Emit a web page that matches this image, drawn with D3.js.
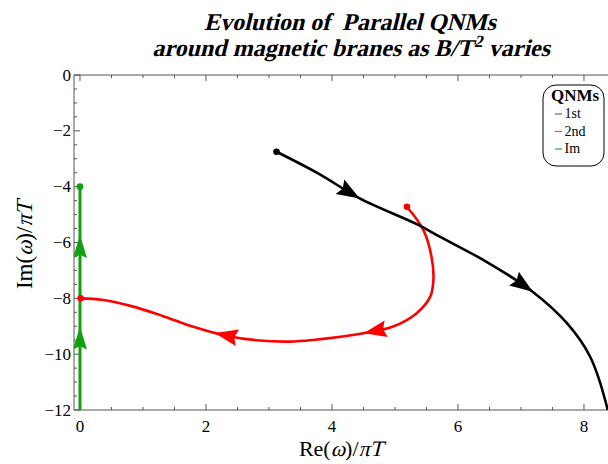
<!DOCTYPE html>
<html>
<body>
    <style>
        body, html {
            margin: 0;
            padding: 0;
            background: #fff;
        }
        svg { display: block; }
        text { font-family: "Liberation Serif", "Times New Roman", serif; }
    </style>

    <svg width="608" height="464"></svg>

    <script src="https://d3js.org/d3.v7.min.js"></script>

    <script>
        // data (Re, Im) in units of pi*T
        var firstMode = [
            [3.12, -2.75], [3.80, -3.55], [4.44, -4.42], [5.37, -5.37], [5.71, -5.79],
            [6.46, -6.70], [7.19, -7.77], [7.73, -8.89], [8.10, -10.1], [8.37, -11.93], [8.40, -12.3]
        ];
        var secondMode = [
            [5.19, -4.72], [5.45, -5.55], [5.58, -6.51], [5.61, -7.34], [5.56, -7.94],
            [5.34, -8.54], [4.97, -9.01], [4.50, -9.25], [3.70, -9.49], [3.33, -9.55],
            [2.80, -9.50], [2.30, -9.33], [1.80, -9.02], [1.30, -8.62], [0.80, -8.27],
            [0.35, -8.05], [0.01, -8.0]
        ];
        var imMode = [[0, -12.3], [0, -4.0]];

        var firstDots = [[3.12, -2.75]];
        var secondDots = [[5.19, -4.72], [0.01, -8.0]];
        var imDots = [[0, -4.0]];

        var firstArrows = [[4.44, -4.42], [7.19, -7.77]];
        var secondArrows = [[4.50, -9.25], [2.14, -9.25]];
        var imArrows = [[0, -5.73], [0, -9.01]];

        var xTicks = [0, 2, 4, 6, 8];
        var yTicks = [0, -2, -4, -6, -8, -10, -12];
        var legendLabels = ["1st", "2nd", "Im"];

        var firstColor = "#000";
        var secondColor = "#ff0000";
        var imColor = "#10a010";
        var legendColors = ["#666", "#ff4040", "#20b020"];
        var frameColor = "#555";

        var svg = d3.select("svg");
        var pLeft = 74, pRight = 612, pTop = 75, pBottom = 410;
        var SKEW = -14;

        var x = d3.scaleLinear().domain([-0.095, 8.445]).range([pLeft, pRight]);
        var y = d3.scaleLinear().domain([-12, 0]).range([pBottom, pTop]);

        // text made of pieces, italic pieces are slanted (no italic serif face installed)
        function richText(parent, pieces, size, weight) {
            var g = parent.append("g");
            var cx = 0;
            pieces.forEach(function (p) {
                var sz = p.size || size;
                var holder = g.append("g")
                    .attr("transform", "translate(" + cx + "," + (p.dy || 0) + ")" + (p.italic ? " skewX(" + SKEW + ")" : ""));
                var t = holder.append("text")
                    .attr("font-size", sz).attr("font-weight", weight || "normal")
                    .attr("xml:space", "preserve")
                    .text(p.text);
                cx += t.node().getComputedTextLength() + (p.gap || 0);
            });
            g.selectAll("g").each(function () {
                var tr = d3.select(this).attr("transform");
                var m = /translate\(([-\d.e]+),([-\d.e]+)\)(.*)/.exec(tr);
                d3.select(this).attr("transform",
                    "translate(" + (+m[1] - cx / 2) + "," + m[2] + ")" + m[3]);
            });
            return g;
        }

        svg.append("clipPath").attr("id", "plotClip")
            .append("rect").attr("x", pLeft).attr("y", pTop)
            .attr("width", pRight - pLeft).attr("height", pBottom - pTop);

        // FRAME + TICKS
        var frame = svg.append("g");
        frame.append("path")
            .attr("d", "M" + pRight + "," + pTop + "H" + pLeft + "V" + pBottom + "H" + pRight)
            .attr("fill", "none").attr("stroke", frameColor).attr("stroke-width", 1);

        var xMinor = d3.range(0, 8.5, 0.5);
        var yMinor = d3.range(-12, 0.01, 0.5);

        xMinor.forEach(function (v) {
            var major = xTicks.indexOf(v) >= 0;
            var len = major ? 6 : 3;
            frame.append("line").attr("x1", x(v)).attr("x2", x(v))
                .attr("y1", pBottom).attr("y2", pBottom - len)
                .attr("stroke", frameColor);
            frame.append("line").attr("x1", x(v)).attr("x2", x(v))
                .attr("y1", pTop).attr("y2", pTop + len)
                .attr("stroke", frameColor);
        });
        yMinor.forEach(function (v) {
            var major = yTicks.indexOf(v) >= 0;
            frame.append("line").attr("x1", pLeft).attr("x2", pLeft + (major ? 6 : 3))
                .attr("y1", y(v)).attr("y2", y(v))
                .attr("stroke", frameColor);
        });

        frame.selectAll(".xl").data(xTicks).enter().append("text")
            .attr("x", function (d) { return x(d); }).attr("y", 432)
            .attr("text-anchor", "middle").attr("font-size", 17)
            .text(function (d) { return d; });
        frame.selectAll(".yl").data(yTicks).enter().append("text")
            .attr("x", 71).attr("y", function (d) { return y(d) + 5.5; })
            .attr("text-anchor", "end").attr("font-size", 17)
            .text(function (d) { return d === 0 ? "0" : "\u2212" + Math.abs(d); });

        // AXIS LABELS
        var axisPieces = function (first) {
            return [
                { text: first + "(" },
                { text: "\u03C9", italic: true },
                { text: ")/" },
                { text: "\u03C0", italic: true },
                { text: "T", italic: true }
            ];
        };
        richText(svg.append("g").attr("transform", "translate(341,456)"), axisPieces("Re"), 22);
        richText(svg.append("g").attr("transform", "translate(32,245) rotate(-90)"), axisPieces("Im"), 23);

        // TITLE
        richText(svg.append("g").attr("transform", "translate(350,30)"),
            [{ text: "Evolution of  Parallel QNMs", italic: true }], 24, "bold");
        richText(svg.append("g").attr("transform", "translate(351,56)"),
            [{ text: "around magnetic branes as B/T", italic: true, gap: 1 },
             { text: "2", italic: true, size: 17, dy: -9 },
             { text: " varies", italic: true }], 24, "bold");

        // CURVES
        var plot = svg.append("g").attr("clip-path", "url(#plotClip)");
        var line = d3.line()
            .x(function (d) { return x(d[0]); })
            .y(function (d) { return y(d[1]); })
            .curve(d3.curveCatmullRom.alpha(0.5));

        function drawSeries(data, dots, arrows, color, width, headLen, headHalf) {
            var p = plot.append("path").datum(data)
                .attr("d", line)
                .attr("fill", "none").attr("stroke", color)
                .attr("stroke-width", width);

            var node = p.node();
            var total = node.getTotalLength();

            arrows.forEach(function (a) {
                var tx = x(a[0]), ty = y(a[1]);
                var best = 0, bestD = Infinity;
                for (var s = 0; s <= total; s += 0.5) {
                    var pt = node.getPointAtLength(s);
                    var dd = (pt.x - tx) * (pt.x - tx) + (pt.y - ty) * (pt.y - ty);
                    if (dd < bestD) { bestD = dd; best = s; }
                }
                var tip = node.getPointAtLength(best);
                var back = node.getPointAtLength(Math.max(0, best - headLen));
                var dx = tip.x - back.x, dy = tip.y - back.y;
                var n = Math.sqrt(dx * dx + dy * dy);
                dx /= n; dy /= n;
                var bx = tip.x - dx * headLen, by = tip.y - dy * headLen;
                var nx = tip.x - dx * headLen * 0.86, ny = tip.y - dy * headLen * 0.86;
                var pts = [
                    [tip.x, tip.y],
                    [bx - dy * headHalf, by + dx * headHalf],
                    [nx, ny],
                    [bx + dy * headHalf, by - dx * headHalf]
                ];
                plot.append("path")
                    .attr("d", "M" + pts.map(function (q) { return q.join(","); }).join("L") + "Z")
                    .attr("fill", color).attr("stroke", "none");
            });

            plot.selectAll(null).data(dots).enter().append("circle")
                .attr("cx", function (d) { return x(d[0]); })
                .attr("cy", function (d) { return y(d[1]); })
                .attr("r", 3.3).attr("fill", color);
        }

        drawSeries(imMode, imDots, imArrows, imColor, 3, 23, 7);
        drawSeries(secondMode, secondDots, secondArrows, secondColor, 2.6, 23, 8.5);
        drawSeries(firstMode, firstDots, firstArrows, firstColor, 2.6, 23, 8.5);

        // LEGEND
        var lg = svg.append("g");
        lg.append("rect").attr("x", 543).attr("y", 85).attr("width", 61).attr("height", 81)
            .attr("rx", 13).attr("ry", 13)
            .attr("fill", "#fff").attr("stroke", "#000").attr("stroke-width", 1);
        lg.append("text").attr("x", 575).attr("y", 101)
            .attr("text-anchor", "middle").attr("font-size", 17).attr("font-weight", "bold")
            .text("QNMs");
        legendLabels.forEach(function (lab, i) {
            var base = 118 + i * 17.5;
            lg.append("line").attr("x1", 555).attr("x2", 562)
                .attr("y1", base - 4).attr("y2", base - 4)
                .attr("stroke", legendColors[i]).attr("stroke-width", 1.2);
            lg.append("text").attr("x", 564.5).attr("y", base)
                .attr("font-size", 14).text(lab);
        });
    </script>
</body>
</html>
